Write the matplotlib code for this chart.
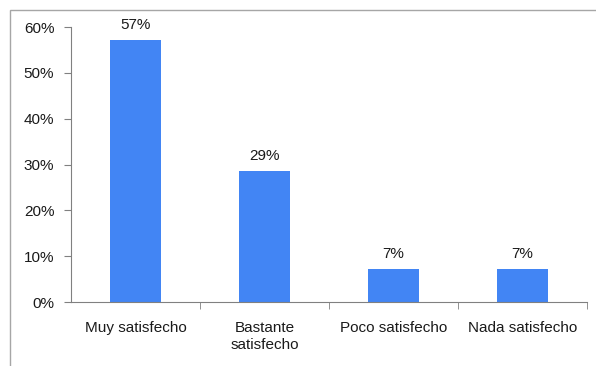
import matplotlib
matplotlib.use("Agg")
import matplotlib.pyplot as plt
from matplotlib.patches import Rectangle
from matplotlib.ticker import FuncFormatter, FixedLocator

categorias = ["Muy satisfecho", "Bastante\nsatisfecho", "Poco satisfecho", "Nada satisfecho"]
valores = [0.571, 0.286, 0.071, 0.071]
etiquetas = ["57%", "29%", "7%", "7%"]

plt.rcParams["font.family"] = ["Liberation Sans", "DejaVu Sans"]
plt.rcParams["font.size"] = 11

fig = plt.figure(figsize=(5.96, 3.66), dpi=100)
# marco gris exterior
fig.patches.append(Rectangle((10 / 596, -0.01), 1.0, 1 - 10 / 366 + 0.01,
                             transform=fig.transFigure, fill=False,
                             edgecolor="#a6a6a6", linewidth=1))

ax = fig.add_axes([71 / 596, 64 / 366, 516 / 596, 275 / 366])
x = range(len(categorias))
ax.bar(x, valores, width=0.39, color="#4285f4", zorder=2)
for xi, v, t in zip(x, valores, etiquetas):
    ax.text(xi, v + 0.018, t, ha="center", va="bottom", color="#1a1a1a")

ax.set_xlim(-0.5, len(categorias) - 0.5)
ax.set_ylim(0, 0.6)
ax.set_yticks([0, 0.1, 0.2, 0.3, 0.4, 0.5, 0.6])
ax.yaxis.set_major_formatter(FuncFormatter(lambda v, p: f"{v * 100:.0f}%"))

ax.set_xticks(list(x))
ax.set_xticklabels(categorias, color="#1a1a1a")
ax.tick_params(axis="x", which="major", length=0, pad=14)
ax.xaxis.set_minor_locator(FixedLocator([i + 0.5 for i in range(len(categorias))]))
ax.tick_params(axis="x", which="minor", length=5, color="#808080")
ax.tick_params(axis="y", length=5, pad=7, color="#808080", labelcolor="#1a1a1a")

for s in ["top", "right"]:
    ax.spines[s].set_visible(False)
for s in ["left", "bottom"]:
    ax.spines[s].set_color("#808080")

fig.savefig("out.png", dpi=100)
